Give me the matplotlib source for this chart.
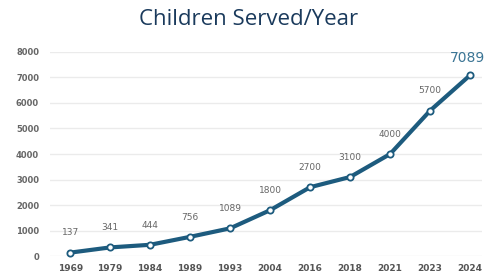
import matplotlib
matplotlib.use("Agg")
import matplotlib.pyplot as plt

years = ["1969", "1979", "1984", "1989", "1993", "2004", "2016", "2018", "2021", "2023", "2024"]
children = [137, 341, 444, 756, 1089, 1800, 2700, 3100, 4000, 5700, 7089]
y_ticks = [0, 1000, 2000, 3000, 4000, 5000, 6000, 7000, 8000]

line_color = "#1d5b7e"

fig = plt.figure(figsize=(4.87, 2.79), dpi=100)
ax = fig.add_axes([0.103, 0.082, 0.887, 0.732])
x = list(range(len(years)))
ax.plot(x, children, color=line_color, linewidth=3, marker="o", markersize=4.5,
        markerfacecolor="white", markeredgecolor=line_color, markeredgewidth=1.3,
        clip_on=False, zorder=3)

for i, v in enumerate(children[:-1]):
    ax.annotate(str(v), (i, v), xytext=(0, 11), textcoords="offset points",
                ha="center", va="bottom", fontsize=6.5, color="#666666",
                family="DejaVu Sans")
ax.annotate(str(children[-1]), (x[-1], children[-1]), xytext=(-2, 7),
            textcoords="offset points", ha="center", va="bottom",
            fontsize=10, color="#3b7595", family="DejaVu Sans")

ax.set_xlim(-0.5, 10.3)
ax.set_ylim(0, 8000)
ax.set_xticks(x)
ax.set_xticklabels(years, fontsize=6.5, fontweight="bold", color="#555555")
ax.set_yticks(y_ticks)
ax.set_yticklabels([str(t) for t in y_ticks], fontsize=6, fontweight="bold", color="#666666")
ax.tick_params(length=0)
ax.tick_params(axis="x", pad=6)
ax.tick_params(axis="y", pad=8)
ax.grid(axis="y", color="#ebebeb", linewidth=1)
ax.set_axisbelow(True)
for s in ax.spines.values():
    s.set_visible(False)

fig.text(0.51, 0.93, "Children Served/Year", ha="center", va="center",
         fontsize=16, color="#1a3a5c", family="Open Sans")

fig.savefig("out.png", dpi=100)
